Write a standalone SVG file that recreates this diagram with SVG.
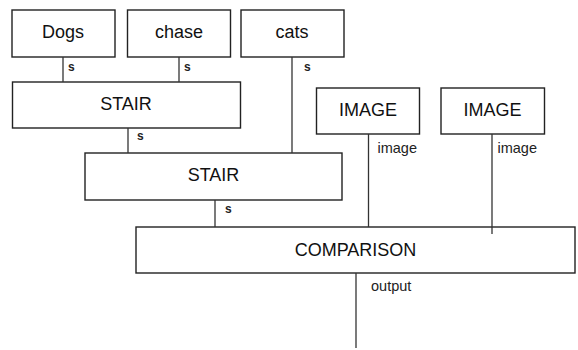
<svg xmlns="http://www.w3.org/2000/svg" width="578" height="350" viewBox="0 0 578 350">
<style>
.box{fill:#fff;stroke:#222;stroke-width:1.4}
.lbl{font-family:"Liberation Sans",Arial,sans-serif;font-size:18px;fill:#111;text-anchor:middle}
.edge{stroke:#333;stroke-width:1.3;fill:none}
.s{font-family:"Liberation Sans",Arial,sans-serif;font-size:12px;font-weight:bold;fill:#222}
.el{font-family:"Liberation Sans",Arial,sans-serif;font-size:14.5px;fill:#222}
</style>
<rect width="578" height="350" fill="#fff"/>
<g id="dogs"><rect class="box" x="12" y="10" width="103" height="47"/><text class="lbl" x="63" y="38">Dogs</text></g>
<g id="chase"><rect class="box" x="127.5" y="10" width="103" height="47"/><text class="lbl" x="179" y="38">chase</text></g>
<g id="cats"><rect class="box" x="241" y="10" width="103" height="47"/><text class="lbl" x="292" y="38">cats</text></g>
<g id="stair1"><rect class="box" x="12.5" y="82" width="228" height="46"/><text class="lbl" x="126" y="110">STAIR</text></g>
<g id="stair2"><rect class="box" x="85" y="153" width="257" height="47"/><text class="lbl" x="213.5" y="181">STAIR</text></g>
<g id="image1"><rect class="box" x="316.5" y="88" width="103" height="46"/><text class="lbl" x="368" y="116">IMAGE</text></g>
<g id="image2"><rect class="box" x="441" y="88" width="103.5" height="46"/><text class="lbl" x="492.5" y="116">IMAGE</text></g>
<g id="comparison"><rect class="box" x="136" y="227" width="439" height="46"/><text class="lbl" x="355.5" y="256">COMPARISON</text></g>
<g id="connectors">
<line class="edge" x1="63" y1="57" x2="63" y2="82"/>
<line class="edge" x1="179" y1="57" x2="179" y2="82"/>
<line class="edge" x1="292" y1="57" x2="292" y2="153"/>
<line class="edge" x1="128" y1="128" x2="128" y2="153"/>
<line class="edge" x1="215" y1="200" x2="215" y2="227"/>
<line class="edge" x1="368.5" y1="134" x2="368.5" y2="227"/>
<line class="edge" x1="492" y1="134" x2="492" y2="234"/>
<line class="edge" x1="356" y1="273" x2="356" y2="348"/>
<text class="s" x="68" y="71">s</text>
<text class="s" x="184" y="71">s</text>
<text class="s" x="304" y="71">s</text>
<text class="s" x="137" y="140">s</text>
<text class="s" x="225" y="213">s</text>
<text class="el" x="377.5" y="153">image</text>
<text class="el" x="497.5" y="153">image</text>
<text class="el" x="371" y="291">output</text>
</g>
</svg>
